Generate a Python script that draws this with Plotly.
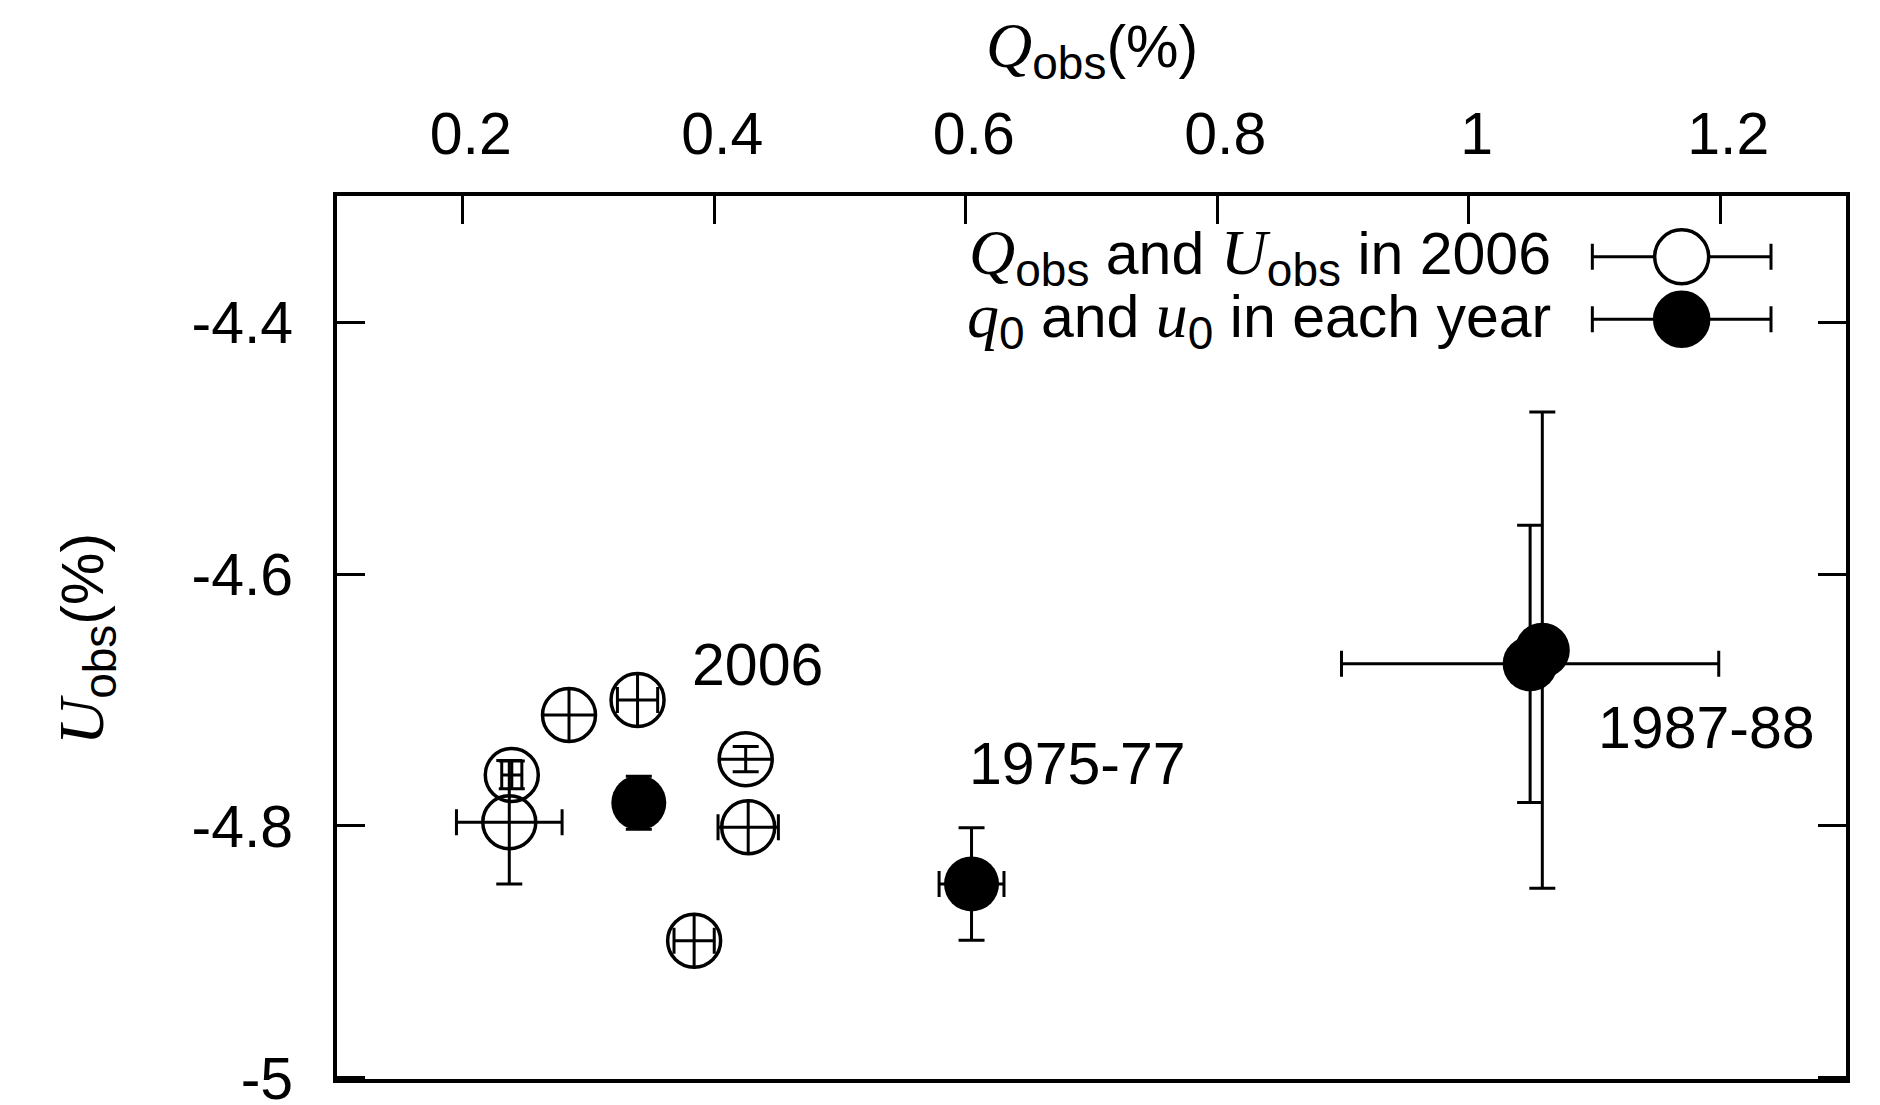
import plotly.graph_objects as go

# ---- data ----
# Q_obs, U_obs in 2006 (open circles)
q_2006 = [0.239, 0.237, 0.2845, 0.339, 0.425, 0.427, 0.384]
u_2006 = [-4.7595, -4.797, -4.712, -4.700, -4.747, -4.801, -4.891]
q_2006_err = [0.008, 0.042, 0.022, 0.016, 0.022, 0.024, 0.016]
u_2006_err = [0.011, 0.049, 0.022, 0.022, 0.010, 0.022, 0.022]
# whether the error-bar end caps are visible (gnuplot hides them when the bar ends on the circle)
q_2006_cap = [True, True, False, True, False, True, True]
u_2006_cap = [True, True, False, False, True, False, False]

# q0, u0 in each year (filled circles)
q0 = [0.340, 0.6046, 1.0488, 1.0585]
u0 = [-4.7815, -4.846, -4.6713, -4.6605]
q0_err = [0.010, 0.0258, 0.150, 0.010]
u0_err = [0.021, 0.0447, 0.110, 0.189]

label_text = ["2006", "1975-77", "1987-88"]
label_x = [0.381, 0.601, 1.101]
label_y = [-4.672, -4.751, -4.722]

x_tickvals = [0.2, 0.4, 0.6, 0.8, 1.0, 1.2]
x_ticktext = ["0.2", "0.4", "0.6", "0.8", "1", "1.2"]
y_tickvals = [-5.0, -4.8, -4.6, -4.4]
y_ticktext = ["-5", "-4.8", "-4.6", "-4.4"]


def mathvar(ch, size):
    return ("<span style='font-family:Liberation Serif;font-size:%dpx'><i>%s</i></span>" % (size, ch))


def sub(t, size):
    return "<sub><span style='font-size:%dpx'>%s</span></sub>" % (size, t)


legend_text = [
    mathvar("Q", 64) + sub("obs", 46) + " and " + mathvar("U", 64) + sub("obs", 46) + " in 2006",
    mathvar("q", 64) + sub("0", 46) + " and " + mathvar("u", 64) + sub("0", 46) + " in each year",
]
xtitle = mathvar("Q", 64) + sub("obs", 46) + "(%)"
ytitle = mathvar("U", 64) + sub("obs", 46) + "(%)"

# ---- style ----
FONT = "Liberation Sans, Arial, Helvetica, sans-serif"
FS = 59
EB = dict(color="black", thickness=3, width=13)
EB0 = dict(color="black", thickness=3, width=0)
INVIS = dict(size=1, color="rgba(0,0,0,0)")

fig = go.Figure()

# error bars of the 2006 points, split by cap visibility
for flag, eb in ((True, EB), (False, EB0)):
    idx = [i for i, c in enumerate(q_2006_cap) if c == flag]
    if idx:
        fig.add_trace(go.Scatter(
            x=[q_2006[i] for i in idx], y=[u_2006[i] for i in idx], mode="markers",
            marker=INVIS, hoverinfo="skip", showlegend=False, cliponaxis=False,
            error_x=dict(type="data", array=[q_2006_err[i] for i in idx], visible=True, **eb)))
    idx = [i for i, c in enumerate(u_2006_cap) if c == flag]
    if idx:
        fig.add_trace(go.Scatter(
            x=[q_2006[i] for i in idx], y=[u_2006[i] for i in idx], mode="markers",
            marker=INVIS, hoverinfo="skip", showlegend=False, cliponaxis=False,
            error_y=dict(type="data", array=[u_2006_err[i] for i in idx], visible=True, **eb)))

fig.add_trace(go.Scatter(
    x=q_2006, y=u_2006, mode="markers",
    marker=dict(symbol="circle-open", size=53, color="black", line=dict(width=3.5, color="black")),
    showlegend=False, cliponaxis=False,
))

fig.add_trace(go.Scatter(
    x=q0, y=u0, mode="markers",
    marker=dict(symbol="circle", size=55, color="black", line=dict(width=0)),
    error_x=dict(type="data", array=q0_err, visible=True, **EB),
    error_y=dict(type="data", array=u0_err, visible=True, **EB),
    showlegend=False, cliponaxis=False,
))

annotations = []
for t, x, y in zip(label_text, label_x, label_y):
    annotations.append(dict(x=x, y=y, xref="x", yref="y", text=t, showarrow=False,
                            xanchor="left", yanchor="middle",
                            font=dict(family=FONT, size=FS, color="black")))

# axis titles
annotations.append(dict(
    x=0.5, y=1.166, xref="paper", yref="paper", showarrow=False,
    xanchor="center", yanchor="middle", text=xtitle,
    font=dict(family=FONT, size=FS, color="black")))
annotations.append(dict(
    x=-0.1665, y=0.498, xref="paper", yref="paper", showarrow=False,
    xanchor="center", yanchor="middle", textangle=-90, text=ytitle,
    font=dict(family=FONT, size=FS, color="black")))

# custom legend (text on left, sample on right)
leg_rows = [0.9312, 0.8604]
leg_x0, leg_x1, leg_xc, leg_text_x = 0.8319, 0.9503, 0.8911, 0.8058
shapes = []
for i, (txt, yr) in enumerate(zip(legend_text, leg_rows)):
    annotations.append(dict(x=leg_text_x, y=yr, xref="paper", yref="paper", text=txt,
                            showarrow=False, xanchor="right", yanchor="middle",
                            font=dict(family=FONT, size=FS, color="black")))
    shapes.append(dict(type="line", xref="paper", yref="paper", x0=leg_x0, x1=leg_x1,
                       y0=yr, y1=yr, line=dict(color="black", width=3)))
    for xc in (leg_x0, leg_x1):
        shapes.append(dict(type="line", xref="paper", yref="paper", x0=xc, x1=xc,
                           ysizemode="pixel", yanchor=yr, y0=-13, y1=13,
                           line=dict(color="black", width=3)))
    shapes.append(dict(type="circle", xref="paper", yref="paper",
                       xsizemode="pixel", ysizemode="pixel", xanchor=leg_xc, yanchor=yr,
                       x0=-27, x1=27, y0=-27, y1=27,
                       fillcolor="white" if i == 0 else "black",
                       line=dict(color="black", width=3.5)))

fig.update_layout(
    width=1880, height=1105,
    margin=dict(l=337, r=34, t=196, b=26, autoexpand=False),
    paper_bgcolor="white", plot_bgcolor="white",
    font=dict(family=FONT, size=FS, color="black"),
    annotations=annotations, shapes=shapes,
    xaxis=dict(range=[0.1, 1.3], side="top", tickvals=x_tickvals, ticktext=x_ticktext,
               ticks="inside", ticklen=28, tickwidth=3, tickcolor="black",
               showline=True, linewidth=4, linecolor="black", mirror=True,
               showgrid=False, zeroline=False, ticklabelstandoff=14, ticklabelshift=8,
               automargin=False,
               tickfont=dict(family=FONT, size=FS, color="black")),
    yaxis=dict(range=[-5.0008, -4.3], tickvals=y_tickvals, ticktext=y_ticktext,
               ticks="inside", ticklen=28, tickwidth=3, tickcolor="black",
               showline=True, linewidth=4, linecolor="black", mirror="ticks",
               showgrid=False, zeroline=False, ticklabelstandoff=28,
               ticklabeloverflow="allow", automargin=False,
               tickfont=dict(family=FONT, size=FS, color="black")),
)

fig.write_html("out.html")
